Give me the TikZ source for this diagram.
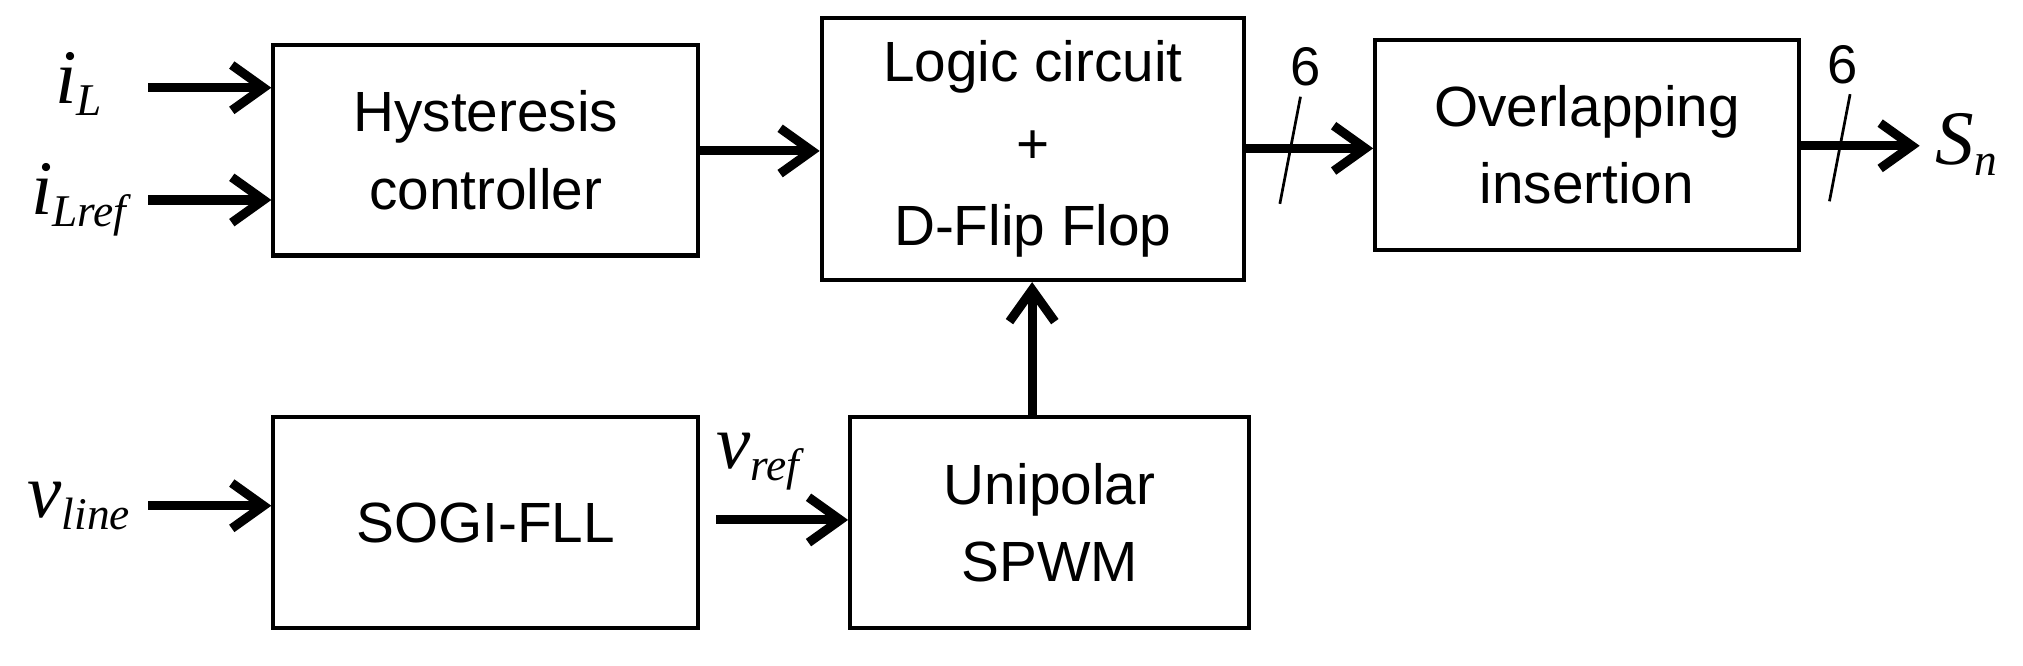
\documentclass[tikz,border=0pt]{standalone}
\usepackage{fontspec}
\setmainfont{Liberation Sans}
\newfontfamily\tnr{Liberation Serif}
\usetikzlibrary{arrows.meta}
\begin{document}
\begin{tikzpicture}[x=0.01cm,y=-0.01cm,
  blk/.style={draw,line width=0.9pt,inner sep=0pt,align=center,font=\fontsize{12.5}{17}\selectfont},
  arr/.style={line width=2pt,-{Straight Barb[length=7pt,width=10pt,line width=2pt]}},
  lab/.style={font=\tnr\fontsize{17}{17}\selectfont\itshape},
  num/.style={font=\fontsize{12}{12}\selectfont}]
\useasboundingbox (0,0) rectangle (1568,516);
\node[blk,minimum width=3.29cm,minimum height=1.63cm] (hys) at (376.5,116.5) {Hysteresis\\controller};
\node[blk,minimum width=3.27cm,minimum height=2.03cm] (log) at (800.5,115.5) {Logic circuit\\[1pt]+\\[1pt]D-Flip Flop};
\node[blk,minimum width=3.28cm,minimum height=1.63cm] (ovl) at (1230,112.5) {Overlapping\\insertion};
\node[blk,minimum width=3.29cm,minimum height=1.64cm] (sog) at (376.5,405) {SOGI-FLL};
\node[blk,minimum width=3.09cm,minimum height=1.64cm] (uni) at (813.5,405) {Unipolar\\SPWM};
\node[lab] (iL) at (62,65) {i\textsubscript{\fontsize{10}{10}\selectfont L}};
\node[lab] (iLr) at (62,155) {i\textsubscript{\fontsize{10}{10}\selectfont Lref}};
\node[lab] (vl) at (62,392) {v\textsubscript{\fontsize{10}{10}\selectfont line}};
\node[lab] (vr) at (588,358) {v\textsubscript{\fontsize{10}{10}\selectfont ref}};
\node[lab] (sn) at (1525,112) {S\textsubscript{\fontsize{10}{10}\selectfont n}};
\coordinate (a1) at (115,68); \coordinate (a2) at (115,155); \coordinate (a3) at (115,392);
\draw[arr] (a1) -- (hys.west|-a1);
\draw[arr] (a2) -- (hys.west|-a2);
\draw[arr] (a3) -- (sog.west|-a3);
\draw[arr] (hys.east|-0,117) -- (log.west|-0,117);
\draw[arr] (555,403) -- (uni.west|-0,403);
\draw[arr] (uni.north-|800,0) -- (log.south-|800,0);
\draw[arr] (log.east|-0,115) -- (ovl.west|-0,115);
\draw[arr] (ovl.east|-0,113) -- (sn.west|-0,113);
\draw[line width=0.6pt] (992,158) -- (1008,75);
\draw[line width=0.6pt] (1418,156) -- (1434,73);
\node[num] (n1) at (1012,52) {6};
\node[num] (n2) at (1428,50) {6};
\end{tikzpicture}
\end{document}
